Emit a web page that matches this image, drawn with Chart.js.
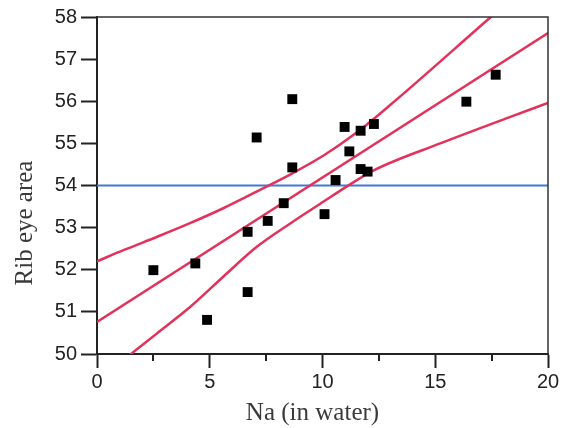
<!DOCTYPE html>
<html>
<head>
<meta charset="utf-8">
<script src="https://cdn.jsdelivr.net/npm/chart.js@4.4.1/dist/chart.umd.min.js"></script>
<style>
  html, body { margin: 0; padding: 0; background: #fff; }
  #wrap { width: 573px; height: 428px; }
</style>
</head>
<body>
<div id="wrap"><canvas id="ribChart" width="573" height="428"></canvas></div>
<script>
// измерения: Na в воде и площадь мышечного глазка
const naValues = [2.5, 4.36, 4.88, 6.68, 6.68, 7.08, 7.57, 8.28, 8.66, 8.66,
                  10.09, 10.58, 10.98, 11.19, 11.69, 11.69, 12.0, 12.28, 16.38, 17.68];
const ribEye = [51.99, 52.15, 50.81, 51.47, 52.90, 55.14, 53.16, 53.58, 56.05, 54.43,
                53.32, 54.13, 55.39, 54.81, 55.30, 54.39, 54.33, 55.46, 55.99, 56.63];

// линия регрессии
const fitX = [0, 20];
const fitY = [50.76, 57.62];

// доверительные границы (верхняя / нижняя)
const upperX = [0, 1.2, 2.7, 4.1, 5.6, 7.1, 8.6, 10.1, 11.5, 13.0, 17.4, 18.0];
const upperY = [52.2, 52.47, 52.79, 53.1, 53.46, 53.86, 54.27, 54.73, 55.25, 55.91, 57.97, 58.25];
const lowerX = [1.0, 1.55, 2.66, 4.14, 5.61, 7.1, 8.57, 10.05, 11.0, 12.27, 15.22, 18.18, 20];
const lowerY = [49.78, 50.02, 50.49, 51.12, 51.84, 52.55, 53.1, 53.62, 53.95, 54.36, 55.0, 55.6, 55.96];

// горизонтальная линия (среднее)
const refX = [0, 20];
const refY = [54, 54];

// оси
const xTickStep = 5;
const yTickStep = 1;
const minorX = [2.5, 7.5, 12.5, 17.5];

const xTitle = 'Na (in water)';
const yTitle = 'Rib eye area';

function toPoints(xs, ys) {
    return xs.map(function (x, i) {
        return { x: x, y: ys[i] };
    });
}

const red = '#e3325a';
const axisColor = '#222';

function curve(xs, ys) {
    return {
        type: 'line',
        data: toPoints(xs, ys),
        borderColor: red,
        borderWidth: 2.5,
        pointRadius: 0,
        fill: false,
        cubicInterpolationMode: 'monotone',
        order: 1
    };
}

// рамка сверху/справа, мелкие засечки и подписи осей
const framePlugin = {
    id: 'framePlugin',
    afterDraw(chart) {
        const ctx = chart.ctx;
        const a = chart.chartArea;
        const xs = chart.scales.x;
        ctx.save();
        ctx.strokeStyle = '#333';
        ctx.lineWidth = 1.5;
        ctx.beginPath();
        ctx.moveTo(a.left, a.top);
        ctx.lineTo(a.right, a.top);
        ctx.lineTo(a.right, a.bottom);
        ctx.stroke();

        ctx.strokeStyle = axisColor;
        ctx.lineWidth = 2;
        minorX.forEach(function (v) {
            const px = Math.round(xs.getPixelForValue(v));
            ctx.beginPath();
            ctx.moveTo(px, a.bottom);
            ctx.lineTo(px, a.bottom + 7);
            ctx.stroke();
        });

        ctx.fillStyle = '#3a3a3a';
        ctx.font = '25px "Liberation Serif", "Times New Roman", serif';
        ctx.textAlign = 'center';
        ctx.textBaseline = 'alphabetic';
        ctx.fillText(xTitle, a.left + (a.right - a.left) / 2 - 10, 420);

        ctx.translate(32, 223);
        ctx.rotate(-Math.PI / 2);
        ctx.fillText(yTitle, 0, 0);
        ctx.restore();
    }
};

const tickFont = { family: '"Liberation Sans", Arial, sans-serif', size: 20 };

new Chart(document.getElementById('ribChart'), {
    type: 'scatter',
    data: {
        datasets: [
            {
                data: toPoints(naValues, ribEye),
                backgroundColor: '#000',
                borderWidth: 0,
                pointStyle: 'rect',
                pointRadius: 7,
                pointHoverRadius: 7,
                order: 0
            },
            curve(fitX, fitY),
            curve(upperX, upperY),
            curve(lowerX, lowerY),
            {
                type: 'line',
                data: toPoints(refX, refY),
                borderColor: '#3f78d8',
                borderWidth: 2,
                pointRadius: 0,
                fill: false,
                order: 2
            }
        ]
    },
    options: {
        responsive: false,
        animation: false,
        events: [],
        layout: { padding: { left: 0, right: 25, top: 17, bottom: 0 } },
        plugins: {
            legend: { display: false },
            tooltip: { enabled: false }
        },
        scales: {
            x: {
                type: 'linear',
                min: 0,
                max: 20,
                ticks: { stepSize: xTickStep, color: axisColor, font: tickFont, padding: 2, maxRotation: 0 },
                grid: { drawOnChartArea: false, tickLength: 14, tickWidth: 2, tickColor: axisColor },
                border: { color: axisColor, width: 2 },
                afterFit(scale) { scale.height = 74; }
            },
            y: {
                min: 50,
                max: 58,
                ticks: { stepSize: yTickStep, color: axisColor, font: tickFont, padding: 4 },
                grid: { drawOnChartArea: false, tickLength: 16, tickWidth: 2, tickColor: axisColor },
                border: { color: axisColor, width: 2 },
                afterFit(scale) { scale.width = 97; }
            }
        }
    },
    plugins: [framePlugin]
});
</script>
</body>
</html>
